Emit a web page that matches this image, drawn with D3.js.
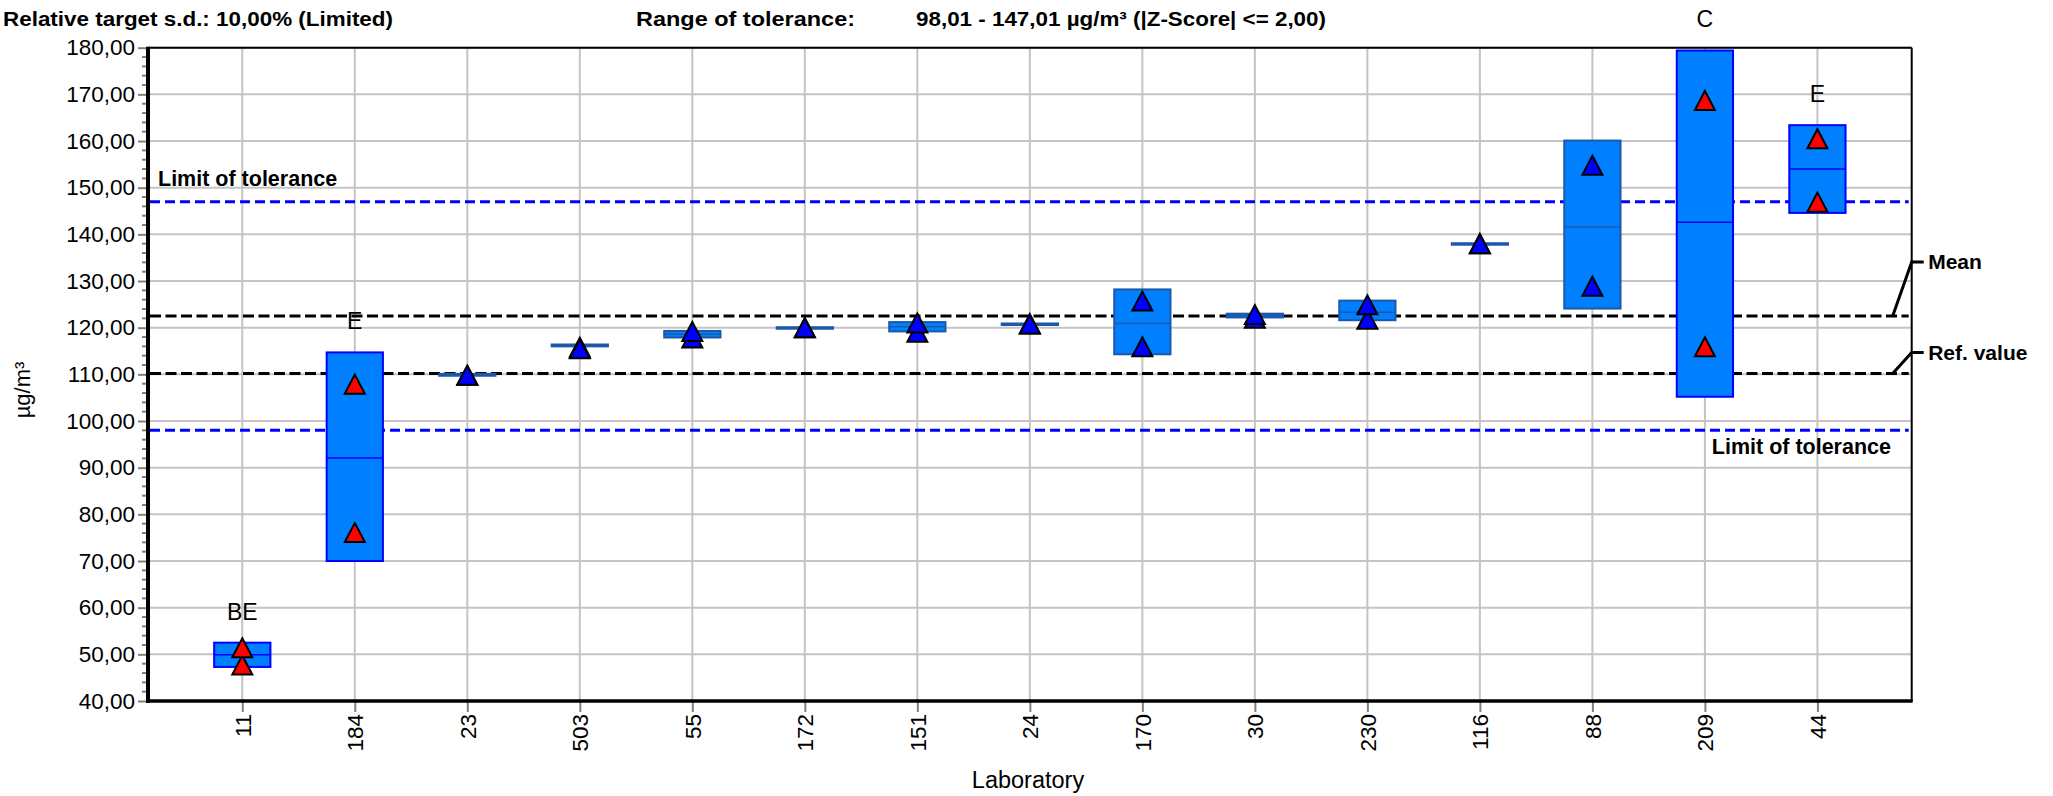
<!DOCTYPE html>
<html><head><meta charset="utf-8">
<script src="https://cdn.jsdelivr.net/npm/d3@7/dist/d3.min.js"></script>
<style>
body{margin:0;background:#fff;}
text{font-family:"Liberation Sans",Arial,sans-serif;}
</style></head>
<body><svg id="c" width="2053" height="796"></svg>
<script>
const labs = ["11","184","23","503","55","172","151","24","170","30","230","116","88","209","44"];
const flags = ["BE","E","","","","","","","","","","","","C","E"];
const valueA = [51.4,107.9,109.8,115.5,119.2,120.0,121.0,120.8,125.7,122.8,124.9,138.0,154.8,168.7,160.5];
const valueB = [47.7,76.1,109.8,115.8,117.8,120.0,119.0,120.8,115.9,122.0,121.8,138.0,128.9,115.9,146.9];
const boxLow  = [47.3,70.0,109.7,116.0,117.9,119.9,119.2,120.7,114.3,122.2,121.6,137.9,124.1,105.2,144.6];
const boxHigh = [52.5,114.7,110.1,116.4,119.3,120.1,121.2,120.9,128.2,123.0,125.8,138.1,160.1,179.4,163.4];
const boxMid  = [49.9,92.07,109.9,116.2,118.6,120.0,120.2,120.8,120.9,122.6,123.3,138.0,141.6,142.6,154.0];
const yTicks = [40,50,60,70,80,90,100,110,120,130,140,150,160,170,180];
const tolLow = 98.01, tolHigh = 147.01, meanVal = 122.51, refVal = 110.2;
const headerLeft = "Relative target s.d.:  10,00% (Limited)";
const headerMid = "Range of tolerance:";
const headerRange = "98,01 - 147,01 µg/m³ (|Z-Score| <= 2,00)";

const svg = d3.select("#c");
const L = 148, R = 1911.7, T = 47.7, B = 701;
const x = d3.scaleLinear().domain([-0.838, labs.length - 1 + 0.838]).range([L, R]);
const y = d3.scaleLinear().domain([40, 180]).range([B, T]);
const fmt = v => d3.format(".2f")(v).replace(".", ",");
const FF = '"Liberation Sans",Arial,sans-serif';

// grid
const g = svg.append("g");
g.selectAll(".hg").data(yTicks).join("line")
  .attr("x1", L).attr("x2", R).attr("y1", d => y(d)).attr("y2", d => y(d))
  .attr("stroke", "#c4c4c4").attr("stroke-width", 2);
g.selectAll(".vg").data(labs).join("line")
  .attr("x1", (d, i) => x(i)).attr("x2", (d, i) => x(i)).attr("y1", T).attr("y2", B)
  .attr("stroke", "#c4c4c4").attr("stroke-width", 2);

// reference lines
const refLines = [
  {v: tolHigh, c: "#0000ff", dash: "10,5"},
  {v: tolLow, c: "#0000ff", dash: "10,5"},
  {v: meanVal, c: "#000", dash: "11,4.5"},
  {v: refVal, c: "#000", dash: "11,4.5"}
];
svg.selectAll(".rl").data(refLines).join("line")
  .attr("x1", L + 2).attr("x2", R - 3).attr("y1", d => y(d.v)).attr("y2", d => y(d.v))
  .attr("stroke", d => d.c).attr("stroke-width", 3).attr("stroke-dasharray", d => d.dash);

// boxes
const bw = (x(1) - x(0)) * 0.5;
const boxes = svg.append("g");
labs.forEach((lab, i) => {
  const red = flags[i] !== "";
  const sc = red ? "#0000ff" : "#1c58a8";
  const top = y(Math.min(boxHigh[i], 180)), bot = y(boxLow[i]);
  boxes.append("rect").attr("x", x(i) - bw / 2).attr("y", top)
    .attr("width", bw).attr("height", Math.max(bot - top, 1.5))
    .attr("fill", "#0080ff").attr("stroke", sc).attr("stroke-width", 2);
  boxes.append("line").attr("x1", x(i) - bw / 2).attr("x2", x(i) + bw / 2)
    .attr("y1", y(boxMid[i])).attr("y2", y(boxMid[i]))
    .attr("stroke", sc).attr("stroke-width", 1.5);
});

// triangles
const tri = (cx, cy) => `M${cx},${cy - 9.5}L${cx + 10},${cy + 9.5}L${cx - 10},${cy + 9.5}Z`;
const pts = [];
labs.forEach((lab, i) => { pts.push({i, v: valueB[i]}); pts.push({i, v: valueA[i]}); });
svg.append("g").selectAll("path").data(pts).join("path")
  .attr("d", d => tri(x(d.i), y(d.v)))
  .attr("fill", d => flags[d.i] !== "" ? "#ff0000" : "#0000ff")
  .attr("stroke", "#000").attr("stroke-width", 2).attr("stroke-linejoin", "miter");

// flag labels
svg.append("g").selectAll("text").data(labs).join("text")
  .attr("x", (d, i) => x(i)).attr("y", (d, i) => y(Math.min(boxHigh[i], 180)) - 23)
  .attr("text-anchor", "middle").attr("font-size", 23).attr("fill", "#000")
  .text((d, i) => flags[i]);

// frame
svg.append("line").attr("x1", L).attr("x2", R).attr("y1", T).attr("y2", T).attr("stroke", "#000").attr("stroke-width", 2);
svg.append("line").attr("x1", R).attr("x2", R).attr("y1", T).attr("y2", B).attr("stroke", "#000").attr("stroke-width", 2);

// y axis
const minor = d3.range(40, 180.01, 2).filter(v => v % 10 !== 0);
svg.append("g").selectAll("line").data(minor).join("line")
  .attr("x1", L - 6).attr("x2", L).attr("y1", d => y(d)).attr("y2", d => y(d))
  .attr("stroke", "#808080").attr("stroke-width", 2);
const ya = svg.append("g").attr("transform", `translate(${L},0)`)
  .call(d3.axisLeft(y).tickValues(yTicks).tickFormat(fmt).tickSize(10).tickPadding(3));
ya.select(".domain").remove();
ya.selectAll(".tick line").attr("stroke", "#808080").attr("stroke-width", 2);
ya.selectAll(".tick text").attr("font-size", 22.5).attr("fill", "#000").attr("font-family", FF);
svg.append("line").attr("x1", L).attr("x2", L).attr("y1", T - 1).attr("y2", B + 2).attr("stroke", "#000").attr("stroke-width", 4);

// x axis
const xa = svg.append("g").attr("transform", `translate(0,${B})`)
  .call(d3.axisBottom(x).tickValues(d3.range(labs.length)).tickFormat(i => labs[i]).tickSize(11).tickPadding(0));
xa.select(".domain").remove();
xa.selectAll(".tick line").attr("stroke", "#808080").attr("stroke-width", 2);
xa.selectAll(".tick text").attr("font-size", 22.5).attr("fill", "#000").attr("font-family", FF)
  .attr("transform", "rotate(-90)").attr("text-anchor", "end")
  .attr("x", -13).attr("y", 0).attr("dy", "0.35em");
svg.append("line").attr("x1", L - 2).attr("x2", R + 1).attr("y1", B).attr("y2", B).attr("stroke", "#000").attr("stroke-width", 3.5);

// axis titles
svg.append("text").attr("transform", "translate(30,390) rotate(-90)")
  .attr("text-anchor", "middle").attr("font-size", 22).text("µg/m³");
svg.append("text").attr("x", 1028).attr("y", 788)
  .attr("text-anchor", "middle").attr("font-size", 23.5).text("Laboratory");

// header
svg.append("text").attr("x", 3).attr("y", 26).attr("font-size", 20).attr("font-weight", "bold")
  .attr("textLength", 390).attr("lengthAdjust", "spacingAndGlyphs").text(headerLeft);
svg.append("text").attr("x", 636).attr("y", 26).attr("font-size", 20).attr("font-weight", "bold")
  .attr("textLength", 219).attr("lengthAdjust", "spacingAndGlyphs").text(headerMid);
svg.append("text").attr("x", 916).attr("y", 26).attr("font-size", 20).attr("font-weight", "bold")
  .attr("textLength", 410).attr("lengthAdjust", "spacingAndGlyphs").text(headerRange);

// tolerance labels
svg.append("text").attr("x", 158).attr("y", y(tolHigh) - 16).attr("font-size", 21.5).attr("font-weight", "bold").text("Limit of tolerance");
svg.append("text").attr("x", 1891).attr("y", y(tolLow) + 24).attr("text-anchor", "end").attr("font-size", 21.5).attr("font-weight", "bold").text("Limit of tolerance");

// mean / ref leaders
const leaders = [{v: meanVal, up: 54, t: "Mean"}, {v: refVal, up: 21, t: "Ref. value"}];
leaders.forEach(d => {
  const yy = y(d.v);
  svg.append("path").attr("d", `M${R - 19},${yy}L${R},${yy - d.up}L${R + 12},${yy - d.up}`)
    .attr("fill", "none").attr("stroke", "#000").attr("stroke-width", 3);
  svg.append("text").attr("x", R + 16.5).attr("y", yy - d.up + 7.5).attr("font-size", 21)
    .attr("font-weight", "bold").text(d.t);
});
</script></body></html>
